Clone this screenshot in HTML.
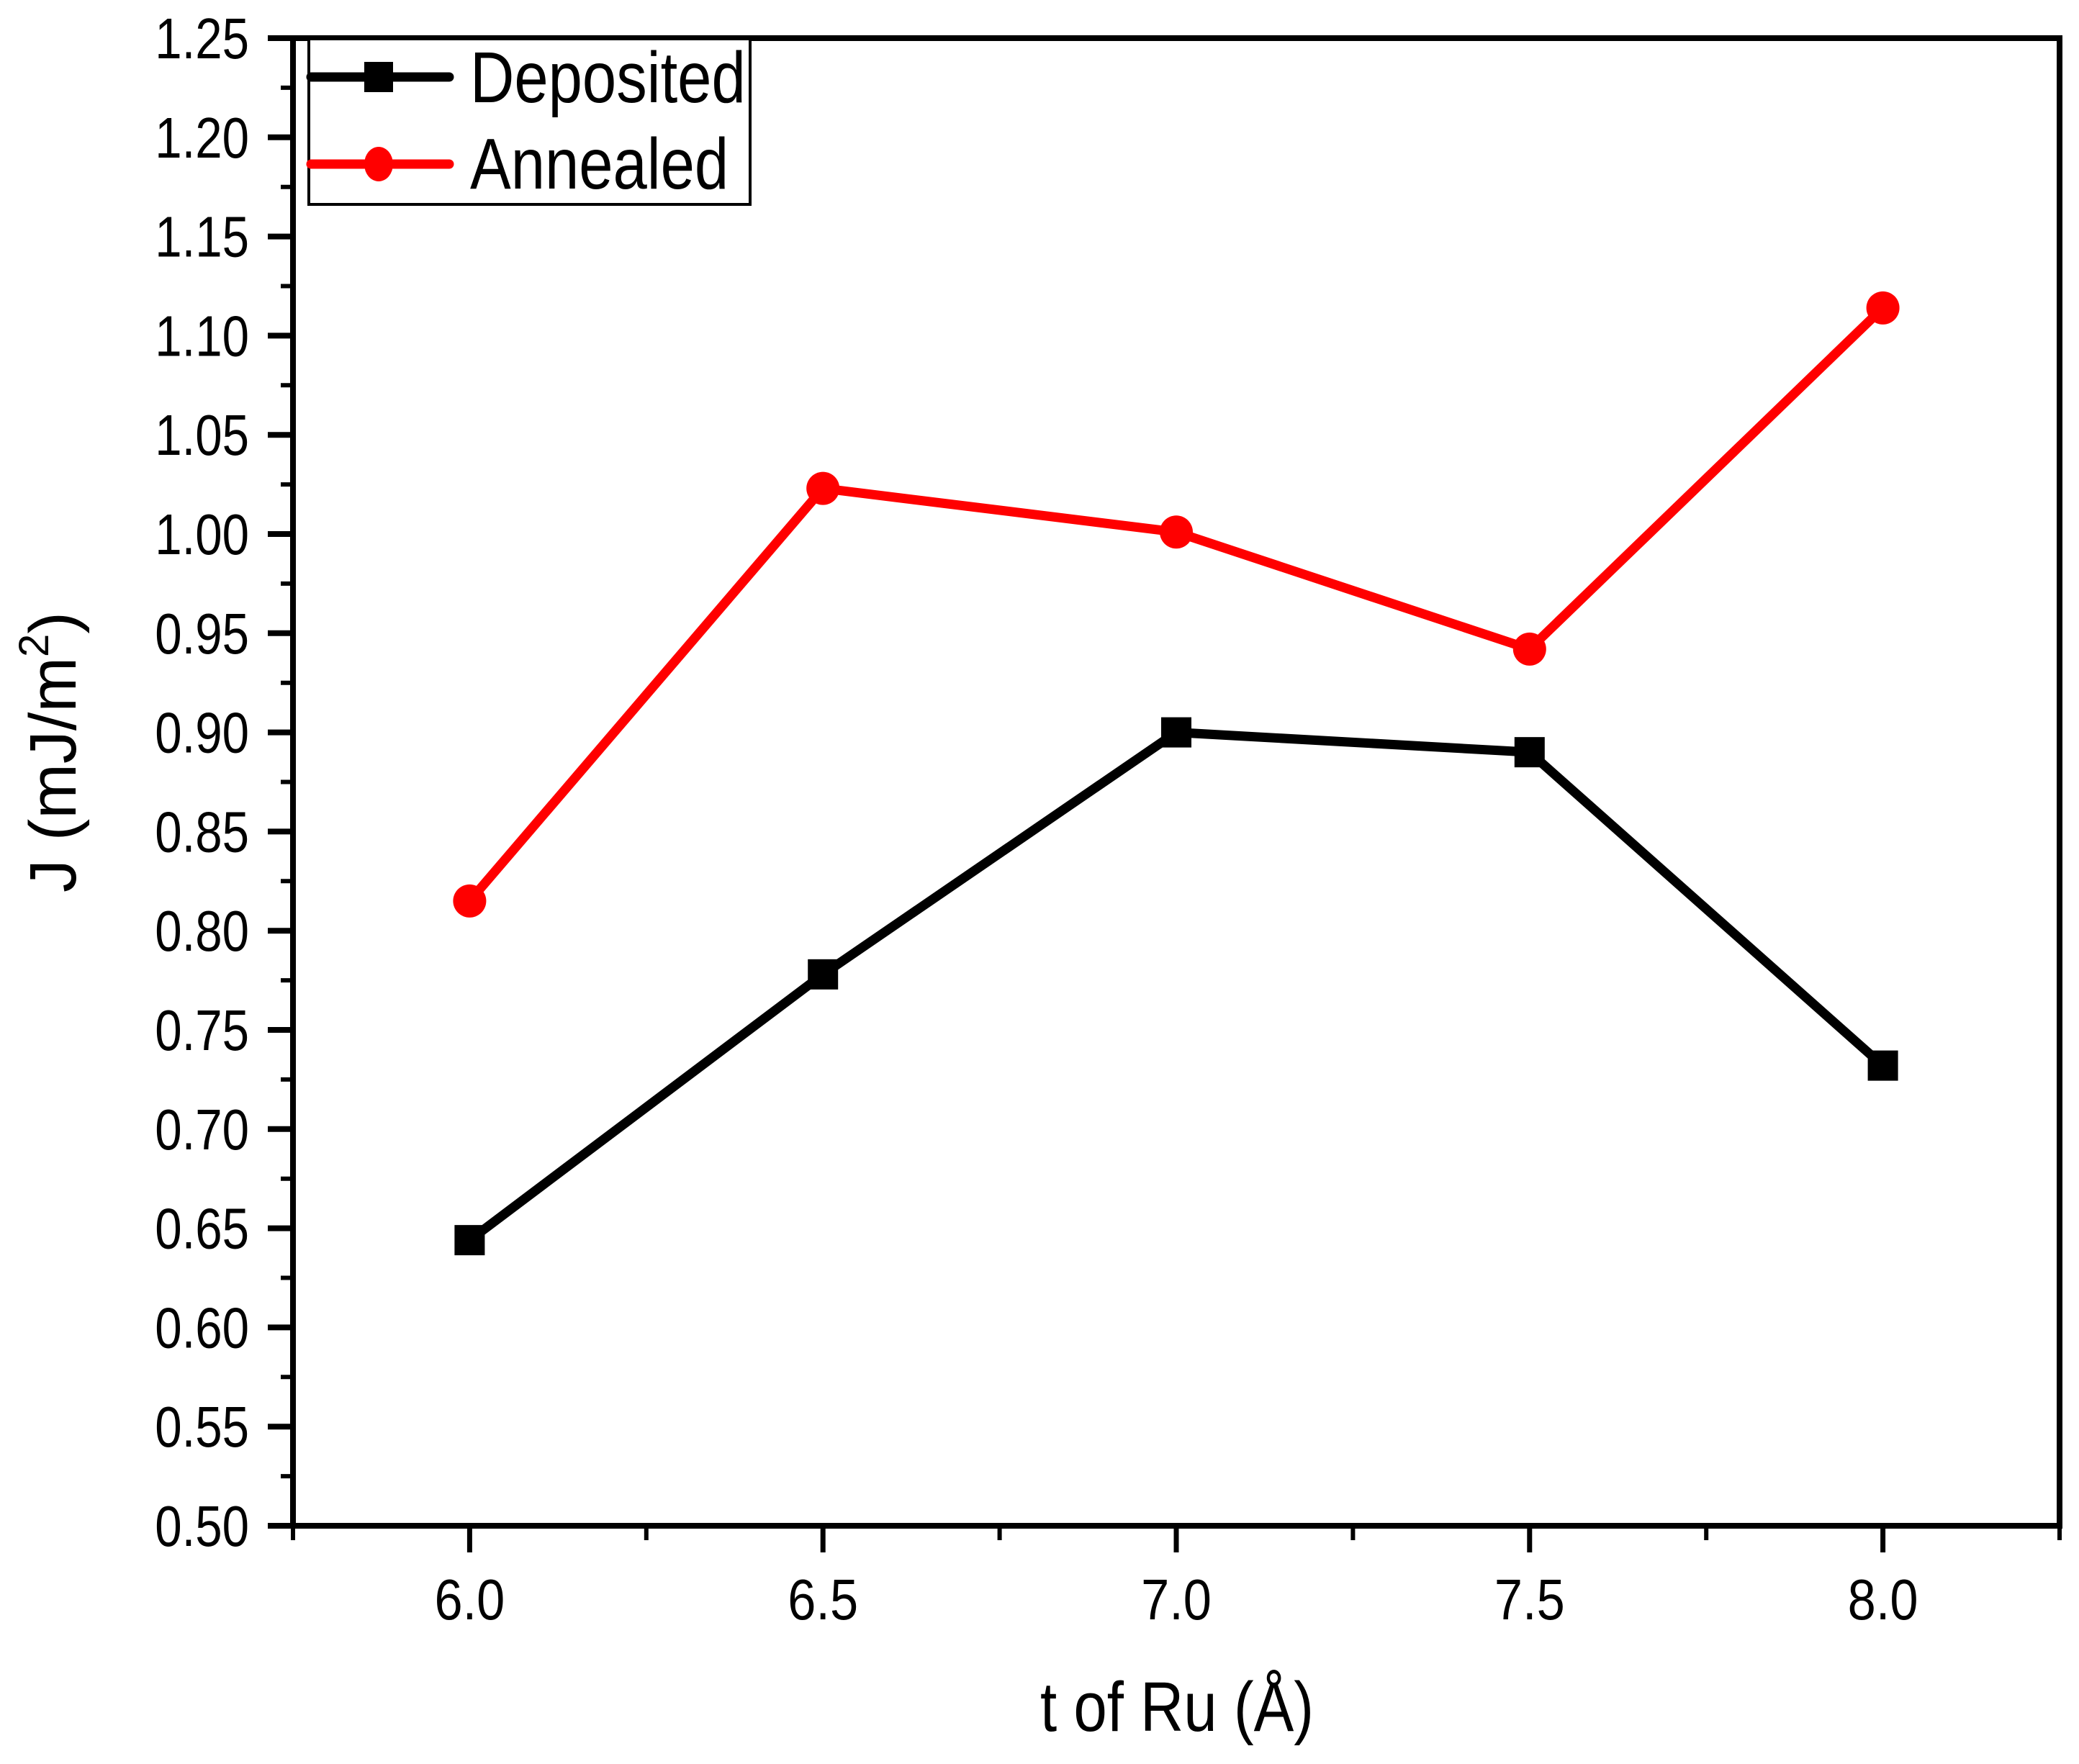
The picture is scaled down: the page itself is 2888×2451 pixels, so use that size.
<!DOCTYPE html>
<html><head><meta charset="utf-8"><style>
html,body{margin:0;padding:0;background:#fff;}
svg{display:block;}
text{font-family:"Liberation Sans",Arial,sans-serif;fill:#000;}
</style></head><body>
<svg id="chart" width="2888" height="2451" viewBox="0 0 2888 2451" xmlns="http://www.w3.org/2000/svg">
<rect width="2888" height="2451" fill="#fff"/>
<g id="axes"></g>
<g id="series"></g>
<g id="legend">
  <rect x="429" y="54" width="613" height="230" fill="#fff" stroke="#000" stroke-width="4"/>
  <g>
    <line x1="432" y1="107" x2="624" y2="107" stroke="#000" stroke-width="13" stroke-linecap="round"/>
    <rect x="506" y="86" width="40" height="42" fill="#000"/>
    <text transform="translate(653,142) scale(0.85,1)" font-size="100">Deposited</text>
  </g>
  <g>
    <line x1="432" y1="228" x2="624" y2="228" stroke="#f00" stroke-width="13" stroke-linecap="round"/>
    <ellipse cx="526" cy="228" rx="20" ry="24" fill="#f00"/>
    <text transform="translate(653,262) scale(0.85,1)" font-size="100">Annealed</text>
  </g>
</g>
<text transform="translate(1635,2405) scale(0.86,1)" font-size="97" text-anchor="middle">t of Ru (Å)</text>
<text transform="translate(105,1045) rotate(-90)" font-size="92" text-anchor="middle">J (mJ/m<tspan font-size="58" dy="-38">2</tspan><tspan dy="38">)</tspan></text>
</svg>
<script>
const categories = [6.0, 6.5, 7.0, 7.5, 8.0];
const depositedValues = [0.644, 0.778, 0.900, 0.890, 0.732];
const annealedValues = [0.815, 1.023, 1.001, 0.942, 1.114];
const xTickLabels = ["6.0", "6.5", "7.0", "7.5", "8.0"];
const yTickLabels = ["0.50","0.55","0.60","0.65","0.70","0.75","0.80","0.85","0.90","0.95","1.00","1.05","1.10","1.15","1.20","1.25"];

const NS = "http://www.w3.org/2000/svg";
const L = 407, R = 2861, T = 53, B = 2120;
const xMin = 5.75, xMax = 8.25, yMin = 0.5, yMax = 1.25;
function xs(v){ return L + (v - xMin) / (xMax - xMin) * (R - L); }
function ys(v){ return B - (v - yMin) / (yMax - yMin) * (B - T); }
function mk(tag, attrs, parent){
  const e = document.createElementNS(NS, tag);
  for (const k in attrs) e.setAttribute(k, attrs[k]);
  parent.appendChild(e);
  return e;
}
const axes = document.getElementById('axes');
const series = document.getElementById('series');

const frame = mk('rect', {x:L, y:T, width:R-L, height:B-T, fill:'none', stroke:'#000', 'stroke-width':8}, axes);



for (let i = 0; i <= 30; i++) {
  const v = yMin + i * 0.025;
  const y = ys(v);
  const major = i % 2 === 0;
  const t = mk('line', {x1:L - (major ? 35 : 17), y1:y, x2:L, y2:y, stroke:'#000', 'stroke-width':major ? 8 : 6}, axes);
  
  
}
yTickLabels.forEach(function(lbl){
  const y = ys(parseFloat(lbl));
  const tx = mk('text', {transform:'translate(346,' + (y + 28) + ') scale(0.84,1)', 'font-size':80, 'text-anchor':'end'}, axes);
  tx.textContent = lbl;
  
  
});
for (let i = 0; i <= 10; i++) {
  const v = xMin + i * 0.25;
  const x = xs(v);
  const major = (i % 2 === 1);
  const t = mk('line', {x1:x, y1:B, x2:x, y2:B + (major ? 37 : 20), stroke:'#000', 'stroke-width':major ? 7 : 6}, axes);
  
  
}
xTickLabels.forEach(function(lbl){
  const x = xs(parseFloat(lbl));
  const tx = mk('text', {transform:'translate(' + x + ',2250) scale(0.88,1)', 'font-size':80, 'text-anchor':'middle'}, axes);
  tx.textContent = lbl;
  
  
});

function drawSeries(vals, color, shape, name){
  const pts = categories.map(function(c, i){ return xs(c) + ',' + ys(vals[i]); }).join(' ');
  const pl = mk('polyline', {points:pts, fill:'none', stroke:color, 'stroke-width':13, 'stroke-linejoin':'round'}, series);
  
  
  categories.forEach(function(c, i){
    const x = xs(c), y = ys(vals[i]);
    let m;
    if (shape === 'square') m = mk('rect', {x:x - 21, y:y - 21, width:42, height:42, fill:color}, series);
    else m = mk('circle', {cx:x, cy:y, r:23, fill:color}, series);
    
    
  });
}
drawSeries(depositedValues, '#000', 'square', 'deposited');
drawSeries(annealedValues, '#f00', 'circle', 'annealed');
</script>
</body></html>
